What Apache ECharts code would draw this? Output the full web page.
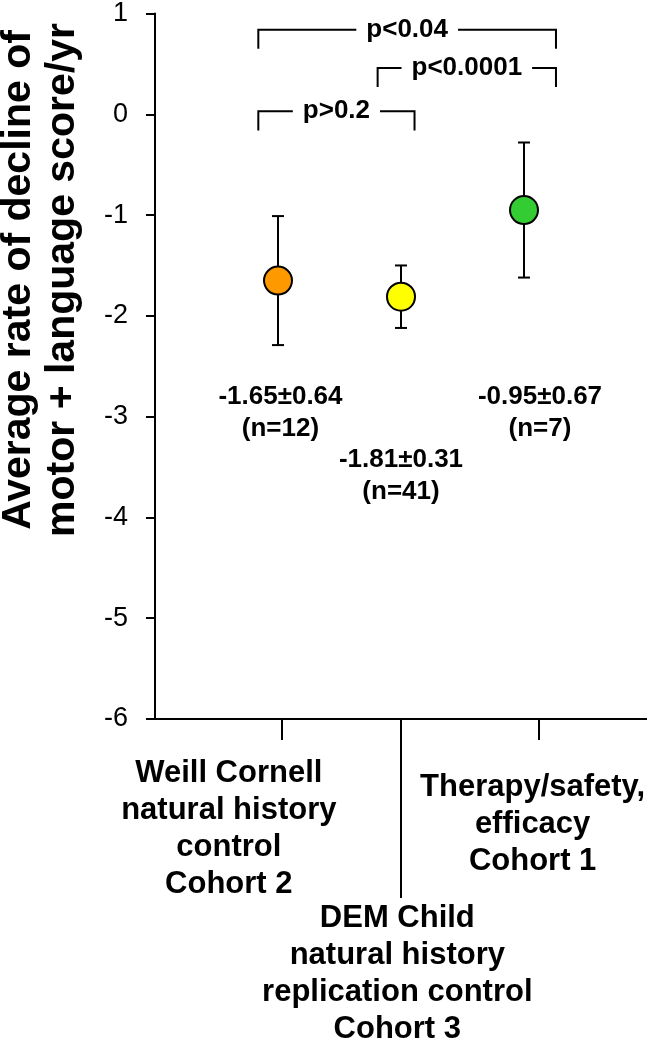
<!DOCTYPE html>
<html><head><meta charset="utf-8">
<script src="https://cdn.jsdelivr.net/npm/echarts@6/dist/echarts.min.js"></script>
<style>html,body{margin:0;padding:0;background:#fff}#c{width:647px;height:1050px}</style>
</head><body><div id="c"></div>
<script>
// ---- data ----
const categories = [
  'Weill Cornell\nnatural history\ncontrol\nCohort 2',
  'DEM Child\nnatural history\nreplication control\nCohort 3',
  'Therapy/safety,\nefficacy\nCohort 1'
];
const xPositions = [1, 2, 3];
const means = [-1.65, -1.81, -0.95];
const errors = [0.64, 0.31, 0.67];
const counts = [12, 41, 7];
const pointColors = ['#FF9900', '#FFFF00', '#33CC33'];
const yMin = -6, yMax = 1, yStep = 1;
const comparisonLabels = ['p<0.04', 'p<0.0001', 'p>0.2'];
const comparisonFrom = [0.84, 1.81, 0.84];
const comparisonTo = [3.26, 3.26, 2.11];
const comparisonLevel = [0.84, 0.46, 0.03];
const yTitle = ['Average rate of decline of', 'motor + language score/yr'];

// ---- layout ----
const FONT = "'Liberation Sans', Arial, Helvetica, sans-serif";
const tickPositions = [1.03, 2.0, 3.12];
const separatorPos = [2.0];
const statLabelPos = [[1.02, -2.96], [2.0, -3.59], [3.13, -2.96]];
const catLabelX = [0.6, 1.97, 3.07];
const catLabelOffset = [110, 255, 105];
const bracketLeg = 0.19;

const chart = echarts.init(document.getElementById('c'), null, {renderer: 'canvas'});

const errData = xPositions.map((x, i) => [x, means[i], errors[i]]);
const pointData = xPositions.map((x, i) => ({value: [x, means[i]], itemStyle: {color: pointColors[i]}}));
const statData = statLabelPos.map((p, i) => [p[0], p[1], i]);
const catData = catLabelX.map((x, i) => [x, yMin, i]);
const bracketData = comparisonLabels.map((l, i) => [comparisonFrom[i], comparisonLevel[i], comparisonTo[i], i]);

const option = {
  animation: false,
  backgroundColor: '#fff',
  grid: {left: 155, right: 0, top: 11, bottom: 331},
  xAxis: [{
    type: 'value', min: 0, max: 4,
    axisLine: {show: true, onZero: false, lineStyle: {color: '#000', width: 2}},
    axisTick: {show: true, customValues: tickPositions, length: 21, lineStyle: {color: '#000', width: 2}},
    axisLabel: {show: false},
    splitLine: {show: false}
  }, {
    type: 'value', min: 0, max: 4, position: 'bottom',
    axisLine: {show: false, onZero: false},
    axisTick: {show: true, customValues: separatorPos, length: 179, lineStyle: {color: '#000', width: 2}},
    axisLabel: {show: false},
    splitLine: {show: false}
  }],
  yAxis: {
    type: 'value', min: yMin, max: yMax, interval: yStep,
    axisLine: {show: true, lineStyle: {color: '#000', width: 2}},
    axisTick: {show: true, length: 9, lineStyle: {color: '#000', width: 2}},
    axisLabel: {color: '#000', fontSize: 27, fontFamily: FONT, margin: 27},
    splitLine: {show: false}
  },
  series: [
    {
      type: 'custom', name: 'errors', clip: false, z: 2,
      encode: {x: 0, y: 1},
      data: errData,
      renderItem: function (params, api) {
        const x = api.value(0), m = api.value(1), e = api.value(2);
        const top = api.coord([x, m + e]);
        const bot = api.coord([x, m - e]);
        const hw = 6;
        const st = {stroke: '#000', lineWidth: 2};
        return {type: 'group', children: [
          {type: 'line', shape: {x1: top[0], y1: top[1], x2: bot[0], y2: bot[1]}, style: st},
          {type: 'line', shape: {x1: top[0] - hw, y1: top[1], x2: top[0] + hw, y2: top[1]}, style: st},
          {type: 'line', shape: {x1: bot[0] - hw, y1: bot[1], x2: bot[0] + hw, y2: bot[1]}, style: st}
        ]};
      }
    },
    {
      type: 'scatter', name: 'means', z: 3,
      symbol: 'circle', symbolSize: 28,
      itemStyle: {borderColor: '#000', borderWidth: 2, opacity: 1},
      data: pointData
    },
    {
      type: 'custom', name: 'stats', clip: false, z: 4,
      encode: {x: 0, y: 1},
      data: statData,
      renderItem: function (params, api) {
        const i = api.value(2);
        const p = api.coord([api.value(0), api.value(1)]);
        return {type: 'text', x: p[0], y: p[1], style: {
          text: means[i].toFixed(2) + '\u00b1' + errors[i].toFixed(2) + '\n(n=' + counts[i] + ')',
          font: 'bold 26px ' + FONT, fill: '#000', align: 'center', verticalAlign: 'middle', lineHeight: 32
        }};
      }
    },
    {
      type: 'custom', name: 'brackets', clip: false, z: 4,
      encode: {x: 0, y: 1},
      data: bracketData,
      renderItem: function (params, api) {
        const x1 = api.value(0), y = api.value(1), x2 = api.value(2), i = api.value(3);
        const pA = api.coord([x1, y - bracketLeg]);
        const pB = api.coord([x1, y]);
        const pC = api.coord([x2, y]);
        const pD = api.coord([x2, y - bracketLeg]);
        return {type: 'group', children: [
          {type: 'polyline', shape: {points: [pA, pB, pC, pD]}, style: {stroke: '#000', lineWidth: 2, fill: null}},
          {type: 'text', x: (pB[0] + pC[0]) / 2, y: pB[1], z2: 10, style: {
            text: comparisonLabels[i], font: 'bold 26px ' + FONT, fill: '#000',
            align: 'center', verticalAlign: 'middle', backgroundColor: '#fff', padding: [0, 10]
          }}
        ]};
      }
    },
    {
      type: 'custom', name: 'categories', clip: false, z: 4,
      encode: {x: 0, y: 1},
      data: catData,
      renderItem: function (params, api) {
        const i = api.value(2);
        const p = api.coord([api.value(0), api.value(1)]);
        return {type: 'text', x: p[0], y: p[1] + catLabelOffset[i], style: {
          text: categories[i], font: 'bold 31px ' + FONT, fill: '#000',
          align: 'center', verticalAlign: 'middle', lineHeight: 37
        }};
      }
    }
  ],
  graphic: [{
    type: 'text', x: 41, y: 280, rotation: Math.PI / 2,
    style: {
      text: yTitle.join('\n'), font: 'bold 41px ' + FONT, fill: '#000',
      align: 'center', verticalAlign: 'middle', lineHeight: 44
    }
  }]
};
chart.setOption(option);
</script>
</body></html>
